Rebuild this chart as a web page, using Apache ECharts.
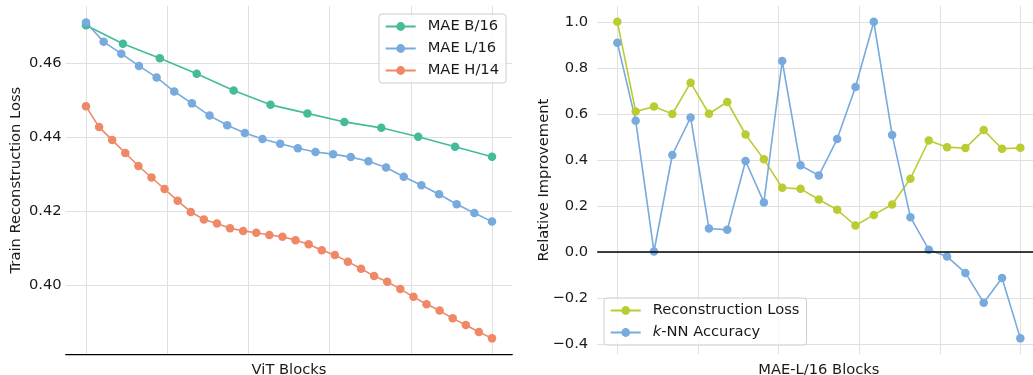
<!DOCTYPE html>
<html>
<head>
<meta charset="utf-8">
<script src="https://cdn.jsdelivr.net/npm/echarts@6.0.0/dist/echarts.min.js"></script>
<style>
  html, body { margin: 0; padding: 0; background: #fff; }
  #chart { width: 1033px; height: 375px; }
</style>
</head>
<body>
<div id="chart"></div>
<script>
// left panel: train reconstruction loss per block
const maeB16 = [0.4702, 0.4652, 0.4613, 0.4571, 0.4526, 0.4487, 0.4464, 0.4441, 0.4425, 0.4401, 0.4374, 0.4347];
const maeL16 = [0.4709, 0.4657, 0.4625, 0.4592, 0.4561, 0.4523, 0.4491, 0.4458, 0.4432, 0.4411, 0.4395, 0.4382,
  0.4370, 0.4360, 0.4354, 0.4346, 0.4335, 0.4318, 0.4293, 0.4270, 0.4246, 0.4219, 0.4195, 0.4172];
const maeH14 = [0.4483, 0.4427, 0.4392, 0.4357, 0.4322, 0.4291, 0.4260, 0.4228, 0.4198, 0.4178, 0.4167, 0.4154,
  0.4147, 0.4142, 0.4136, 0.4131, 0.4122, 0.4111, 0.4095, 0.4082, 0.4064, 0.4045, 0.4025, 0.4010,
  0.3990, 0.3969, 0.3949, 0.3932, 0.3911, 0.3893, 0.3874, 0.3857];
const leftNames = ["MAE B/16", "MAE L/16", "MAE H/14"];
const leftYTicks = [0.40, 0.42, 0.44, 0.46];

// right panel: relative improvement per MAE-L/16 block
const reconLoss = [1.0, 0.611, 0.632, 0.600, 0.736, 0.601, 0.652, 0.511, 0.403, 0.280, 0.275, 0.229,
  0.184, 0.116, 0.162, 0.207, 0.319, 0.485, 0.456, 0.452, 0.530, 0.449, 0.453];
const knnAcc = [0.909, 0.571, 0.003, 0.422, 0.585, 0.103, 0.097, 0.396, 0.216, 0.830, 0.377, 0.333,
  0.491, 0.717, 1.0, 0.509, 0.152, 0.011, -0.019, -0.090, -0.219, -0.112, -0.374];
const rightNames = ["Reconstruction Loss", "k-NN Accuracy"];
const rightYTicks = [-0.4, -0.2, 0.0, 0.2, 0.4, 0.6, 0.8, 1.0];

const xTicks = [0, 0.2, 0.4, 0.6, 0.8, 1.0];

const FONT = "DejaVu Sans";
const FS = 14.7;
const TXT = "#1a1a1a";
const GRIDC = "#e0e0e0";

// blocks spread evenly over [0, 1]
function pairs(vals) {
  return vals.map((v, i) => [i / (vals.length - 1), v]);
}

// plot boxes (pixels) and data extents
const L = { left: 65.7, top: 6, width: 446.6, height: 348.2, xMin: -0.05, xMax: 1.05, yMin: 0.38143, yMax: 0.47537 };
const R = { left: 597.2, top: 6, width: 443.3, height: 348.2, xMin: -0.05, xMax: 1.05, yMin: -0.4427, yMax: 1.0687 };

function px(b, v) { return b.left + (v - b.xMin) / (b.xMax - b.xMin) * b.width; }
function py(b, v) { return b.top + (b.yMax - v) / (b.yMax - b.yMin) * b.height; }

function grids(b, yt) {
  const x0 = px(b, xTicks[0]), x1 = px(b, xTicks[xTicks.length - 1]);
  const y0 = py(b, yt[yt.length - 1]), y1 = py(b, yt[0]);
  const nb = { outerBoundsMode: "none", containLabel: false };
  return [
    Object.assign({ left: b.left, top: b.top, width: b.width, height: b.height }, nb),
    Object.assign({ left: x0, top: b.top, width: x1 - x0, height: b.height }, nb),
    Object.assign({ left: b.left, top: y0, width: b.width, height: y1 - y0 }, nb)
  ];
}

function fmtTick(v, d) {
  if (Math.abs(v) < 1e-9) v = 0;
  return v.toFixed(d).replace("-", "\u2212");
}

function axesFor(b, g0, yt, opts) {
  const xa = [
    {
      gridIndex: g0, type: "value", min: b.xMin, max: b.xMax,
      axisLine: { show: opts.bottomLine, lineStyle: { color: "#000", width: 1.25 } },
      axisTick: { show: false }, axisLabel: { show: false }, splitLine: { show: false },
      name: opts.xName, nameLocation: "middle", nameGap: 8,
      nameTextStyle: { fontFamily: FONT, fontSize: FS, color: TXT }
    },
    {
      gridIndex: g0 + 1, type: "value", min: xTicks[0], max: xTicks[xTicks.length - 1], interval: 0.2,
      axisLine: { show: false }, axisTick: { show: false }, axisLabel: { show: false },
      splitLine: { show: true, lineStyle: { color: GRIDC, width: 1 } }
    },
    { gridIndex: g0 + 2, type: "value", min: 0, max: 1, show: false }
  ];
  const ya = [
    {
      gridIndex: g0, type: "value", min: b.yMin, max: b.yMax,
      axisLine: { show: false }, axisTick: { show: false }, axisLabel: { show: false }, splitLine: { show: false },
      name: opts.yName, nameLocation: "middle", nameGap: opts.yNameGap,
      nameTextStyle: { fontFamily: FONT, fontSize: FS, color: TXT }
    },
    { gridIndex: g0 + 1, type: "value", min: 0, max: 1, show: false },
    {
      gridIndex: g0 + 2, type: "value", min: yt[0], max: yt[yt.length - 1], interval: opts.yStep,
      axisLine: { show: false }, axisTick: { show: false },
      axisLabel: {
        margin: opts.labelMargin, fontFamily: FONT, fontSize: FS, color: TXT,
        formatter: v => fmtTick(v, opts.digits)
      },
      splitLine: { show: true, lineStyle: { color: GRIDC, width: 1 } }
    }
  ];
  return { xa, ya };
}

const la = axesFor(L, 0, leftYTicks, { bottomLine: true, xName: "ViT Blocks", yName: "Train Reconstruction Loss", yNameGap: 42, labelMargin: 4, digits: 2, yStep: 0.02 });
const ra = axesFor(R, 3, rightYTicks, { bottomLine: false, xName: "MAE-L/16 Blocks", yName: "Relative Improvement", yNameGap: 46, labelMargin: 9, digits: 1, yStep: 0.2 });

function lineSeries(name, vals, color, xi, extra) {
  return Object.assign({
    name, type: "line", data: pairs(vals), xAxisIndex: xi, yAxisIndex: xi,
    symbol: "circle", symbolSize: 8.5, clip: false,
    lineStyle: { color, width: 1.6 }, itemStyle: { color },
    emphasis: { disabled: true }
  }, extra || {});
}

const legendBase = {
  orient: "vertical", itemWidth: 30, itemHeight: 11, itemGap: 7,
  backgroundColor: "rgba(255,255,255,0.8)", borderColor: "#cccccc", borderWidth: 1, borderRadius: 3,
  padding: [5, 7, 5, 5.7],
  textStyle: { fontFamily: FONT, fontSize: FS, color: TXT, padding: [0, 0, 0, 7],
    rich: { it: { fontFamily: FONT, fontSize: FS, color: TXT, fontStyle: "italic" } } }
};

const option = {
  animation: false,
  grid: grids(L, leftYTicks).concat(grids(R, rightYTicks)),
  xAxis: la.xa.concat(ra.xa),
  yAxis: la.ya.concat(ra.ya),
  legend: [
    Object.assign({}, legendBase, { data: leftNames, left: 379, top: 14 }),
    Object.assign({}, legendBase, {
      data: rightNames, left: 604, top: 298,
      formatter: n => n === "k-NN Accuracy" ? "{it|k}-NN Accuracy" : n
    })
  ],
  series: [
    lineSeries(leftNames[0], maeB16, "#44BB99", 0),
    lineSeries(leftNames[1], maeL16, "#77AADD", 0),
    lineSeries(leftNames[2], maeH14, "#EE8866", 0),
    lineSeries(rightNames[0], reconLoss, "#BBCC33", 3),
    lineSeries(rightNames[1], knnAcc, "#77AADD", 3, {
      markLine: {
        silent: true, symbol: ["none", "none"], label: { show: false },
        lineStyle: { color: "#000", width: 1.5, type: "solid" },
        data: [{ yAxis: 0 }]
      }
    })
  ]
};

const chart = echarts.init(document.getElementById("chart"), null, { renderer: "canvas" });
chart.setOption(option);
</script>
</body>
</html>
